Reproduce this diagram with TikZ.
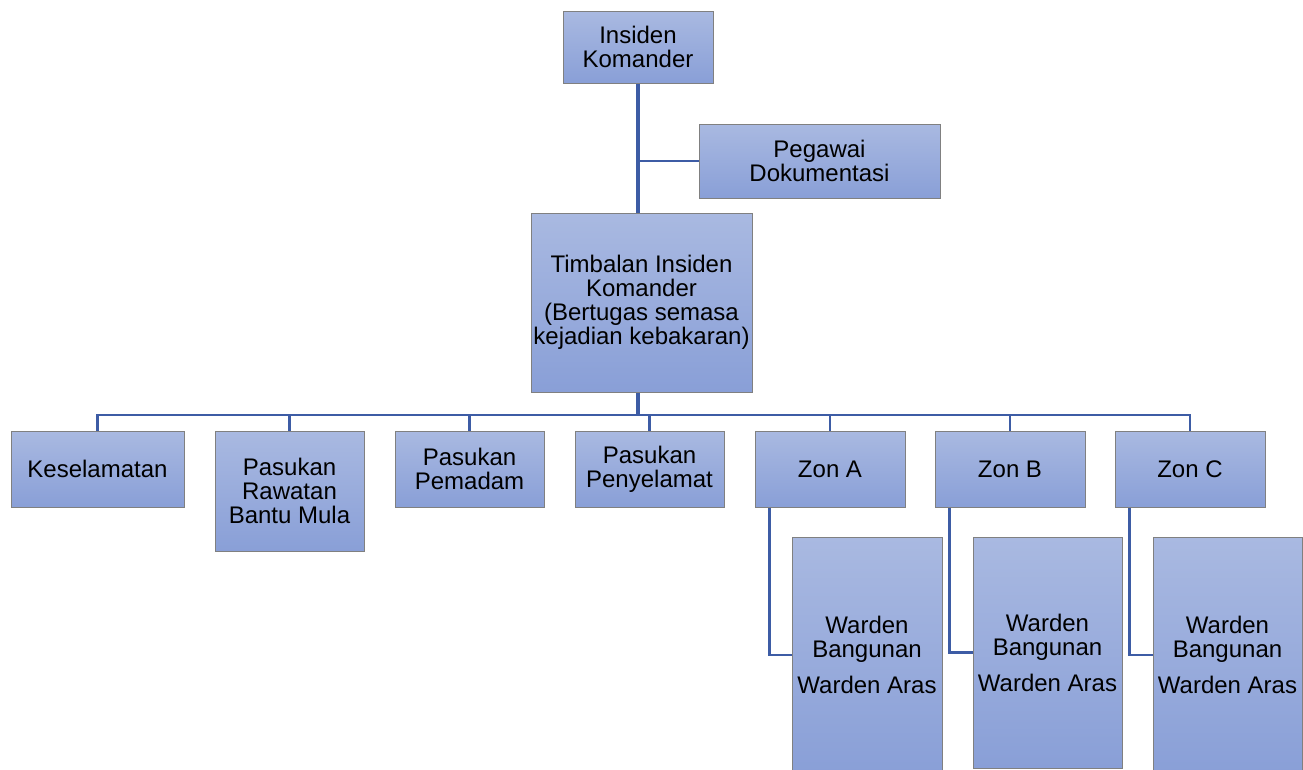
\documentclass[tikz,border=0pt]{standalone}
\usepackage{fontspec}
\setmainfont{Liberation Sans}
\definecolor{boxtop}{RGB}{169,185,225}
\definecolor{boxbot}{RGB}{137,159,215}
\definecolor{boxline}{RGB}{128,128,128}
\definecolor{conn}{RGB}{61,92,165}
\begin{document}
\begin{tikzpicture}[x=0.75pt,y=-0.75pt,
  orgbox/.style={rectangle, draw=boxline, line width=0.75pt, top color=boxtop, bottom color=boxbot,
    inner sep=0pt, align=center, font=\fontsize{18}{18}\selectfont},
  sz/.style 2 args={minimum width=#1*0.75pt, minimum height=#2*0.75pt},
  thick conn/.style={draw=conn, line width=2.4pt},
  thin conn/.style={draw=conn, line width=1.6pt}]
\useasboundingbox (0,0) rectangle (1303,769);
% boxes
\node[orgbox, sz={150}{72}] (ik) at (638,47) {Insiden\\Komander};
\node[orgbox, sz={241}{74}] (pd) at (819.5,161) {Pegawai\\Dokumentasi};
\node[orgbox, sz={221}{179}] (tb) at (641.5,302.5) {Timbalan Insiden\\Komander\\(Bertugas semasa\\kejadian kebakaran)};
\node[orgbox, sz={173}{76}] (kes) at (97.5,469) {Keselamatan};
\node[orgbox, sz={149}{120}] (prb) at (289.5,491) {Pasukan\\Rawatan\\Bantu Mula};
\node[orgbox, sz={149}{76}] (ppm) at (469.5,469) {Pasukan\\Pemadam};
\node[orgbox, sz={149}{76}] (pps) at (649.5,469) {Pasukan\\Penyelamat};
\node[orgbox, sz={150}{76}] (za) at (830,469) {Zon A};
\node[orgbox, sz={150}{76}] (zb) at (1010,469) {Zon B};
\node[orgbox, sz={150}{76}] (zc) at (1190,469) {Zon C};
\node[orgbox, sz={150}{236}] (wa) at (867,655) {Warden\\Bangunan\\[9pt]Warden Aras};
\node[orgbox, sz={149}{231}] (wb) at (1047.5,652.5) {Warden\\Bangunan\\[9pt]Warden Aras};
\node[orgbox, sz={149}{236}] (wc) at (1227.5,655) {Warden\\Bangunan\\[9pt]Warden Aras};
\coordinate (bus) at (638,415);
% connectors
\draw[thick conn] (ik.south) -- (ik.south |- tb.north);
\draw[thin conn] (ik.south |- pd.west) -- (pd.west);
\draw[thick conn] (tb.south -| ik.south) -- (bus);
\draw[thin conn] (kes.north) |- (bus) -| (zc.north);
\foreach \n in {prb,ppm,pps,za,zb}{
  \draw[thin conn] (\n.north) -- (\n.north |- bus);
}
\draw[thin conn] ([xshift=15*0.75pt]za.south west) |- (wa.west);
\draw[thin conn] ([xshift=15*0.75pt]zb.south west) |- (wb.west);
\draw[thin conn] ([xshift=15*0.75pt]zc.south west) |- (wc.west);
\end{tikzpicture}
\end{document}
